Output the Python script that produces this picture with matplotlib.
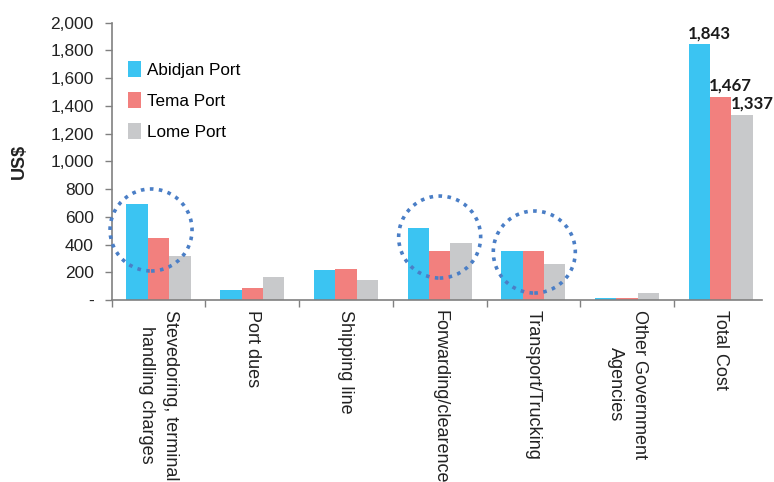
import matplotlib
matplotlib.use("Agg")
import matplotlib.pyplot as plt
from matplotlib.patches import Ellipse
from matplotlib.ticker import FuncFormatter, FixedLocator
import numpy as np

plt.rcParams['font.family'] = ['Liberation Sans', 'DejaVu Sans']

categories = [
    "Stevedoring, terminal\nhandling charges",
    "Port dues",
    "Shipping line",
    "Forwarding/clearence",
    "Transport/Trucking",
    "Other Government\nAgencies",
    "Total Cost",
]
series_names = ["Abidjan Port", "Tema Port", "Lome Port"]
abidjan = [692, 72, 216, 519, 353, 12, 1843]
tema = [447, 87, 224, 353, 353, 12, 1467]
lome = [317, 166, 144, 411, 260, 48, 1337]
colors = ["#3BC4F2", "#F2807E", "#C8C9CB"]

# highlighted groups: (category index, centre value)
highlights = [(-0.08, 505), (3.0, 454), (4.01, 346)]

fig = plt.figure(figsize=(7.74, 4.82), dpi=100)
ax = fig.add_axes([0.1443, 0.3776, 0.9845 - 0.1443, 0.9529 - 0.3776])

x = np.arange(len(categories))
w = 0.228
for i, (vals, name, c) in enumerate(zip([abidjan, tema, lome], series_names, colors)):
    ax.bar(x + (i - 1) * w, vals, width=w, color=c, label=name, linewidth=0)

# value labels on the total cost group
for i, vals in enumerate([abidjan, tema, lome]):
    v = vals[-1]
    ax.text(x[-1] + (i - 1.5) * w - 0.01, v + 22, f"{v:,}", ha="left", va="bottom",
            fontsize=12.2, fontweight="bold", family=["Lato", "DejaVu Sans"], color="#1a1a1a")

ax.set_xlim(-0.5, 6.44)
ax.set_ylim(0, 2000)
ax.set_yticks(np.arange(0, 2001, 200))
ax.yaxis.set_major_formatter(FuncFormatter(lambda v, p: "-" if v == 0 else f"{int(v):,}"))

ax.xaxis.set_major_locator(FixedLocator(np.arange(-0.5, 6.0, 1.0)))
ax.set_xticklabels([])
ax.xaxis.set_minor_locator(FixedLocator(x))
ax.set_xticklabels(categories, minor=True, rotation=270, ha="center", va="top",
                   fontsize=13, multialignment="center", color="#222222",
                   linespacing=1.55)
ax.tick_params(axis="x", which="minor", length=0, pad=7)
ax.tick_params(axis="x", which="major", length=5, color="#808080", width=1)
ax.tick_params(axis="y", length=5, color="#808080", width=1, pad=8,
               labelsize=12.5, labelcolor="#222222")

for s in ["top", "right"]:
    ax.spines[s].set_visible(False)
for s in ["left", "bottom"]:
    ax.spines[s].set_color("#808080")
    ax.spines[s].set_linewidth(1.2)

ax.set_ylabel("US$", fontsize=13, fontweight="bold", color="#222222")
ax.yaxis.set_label_coords(-0.129, 0.5)

# dotted highlight circles
px_x = ax.get_position().width * fig.get_figwidth() * fig.dpi / (6.44 + 0.5)
px_y = ax.get_position().height * fig.get_figheight() * fig.dpi / 2000
r_px = 41
for cx, cy in highlights:
    e = Ellipse((cx, cy), width=2 * r_px / px_x, height=2 * r_px / px_y,
                fill=False, edgecolor="#4A7EC6", linewidth=2.6,
                linestyle=(0, (1, 1.5)), clip_on=False, zorder=5)
    ax.add_patch(e)

ax.legend(loc="upper left", bbox_to_anchor=(0.015, 0.885), frameon=False,
          fontsize=12.3, handlelength=0.72, handleheight=1.0, handletextpad=0.4,
          labelspacing=0.85, borderaxespad=0)

fig.savefig("out.png", dpi=100)
